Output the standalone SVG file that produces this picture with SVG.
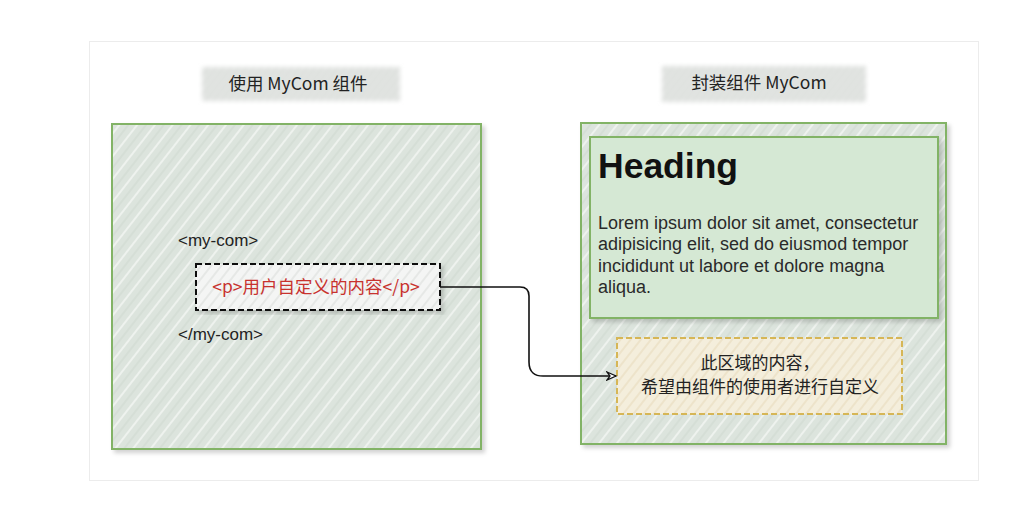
<svg xmlns="http://www.w3.org/2000/svg" width="1036" height="528" viewBox="0 0 1036 528">
<style>
.t{font-family:"Liberation Sans","Noto Sans CJK SC",Arial,sans-serif;fill:#222;font-size:17px}
.c{text-anchor:middle}
.cn{font-family:"Noto Sans CJK SC","Liberation Sans",sans-serif;}
.green{stroke:#82b366;stroke-width:2}
</style>
<defs>
<pattern id="hatch" width="14" height="14" patternUnits="userSpaceOnUse" patternTransform="rotate(-52)">
<rect width="14" height="14" fill="#dce4dd"/>
<line x1="0" y1="3" x2="14" y2="3" stroke="#eef2ee" stroke-width="2"/>
<line x1="0" y1="10" x2="14" y2="10" stroke="#cfd8d0" stroke-width="1"/>
</pattern>
<pattern id="hatchY" width="8" height="8" patternUnits="userSpaceOnUse" patternTransform="rotate(-52)">
<rect width="8" height="8" fill="#f4eedc"/>
<line x1="0" y1="2" x2="8" y2="2" stroke="#e6d9b8" stroke-width="1"/>
</pattern>
<pattern id="hatchW" width="8" height="8" patternUnits="userSpaceOnUse" patternTransform="rotate(-52)">
<rect width="8" height="8" fill="#f4f5f4"/>
<line x1="0" y1="2" x2="8" y2="2" stroke="#d8dcd8" stroke-width="1"/>
</pattern>
<pattern id="hatchG" width="6" height="6" patternUnits="userSpaceOnUse" patternTransform="rotate(-52)">
<rect width="6" height="6" fill="#e6e8e6"/>
<line x1="0" y1="2" x2="6" y2="2" stroke="#c9cdc9" stroke-width="1.2"/>
</pattern>
<filter id="sh" x="-10%" y="-10%" width="120%" height="120%">
<feDropShadow dx="3" dy="3" stdDeviation="2" flood-color="#000" flood-opacity="0.18"/>
</filter>
<filter id="blur" x="-10%" y="-30%" width="120%" height="160%">
<feGaussianBlur stdDeviation="2"/>
</filter>
<marker id="arr" markerWidth="12" markerHeight="10" refX="10" refY="5" orient="auto" markerUnits="userSpaceOnUse">
<path d="M1,1 L10,5 L1,9 L4,5 Z" fill="#fff" stroke="#111" stroke-width="1.3"/>
</marker>
</defs>
<rect x="0" y="0" width="1036" height="528" fill="#fff"/>
<rect x="89.5" y="41.5" width="889" height="439" fill="#fff" stroke="#ececec" stroke-width="1"/>

<g id="label-left">
<rect x="202" y="67" width="198" height="34" fill="url(#hatchG)" filter="url(#blur)"/>
<text class="t c cn" x="298" y="90" style="font-size:17.5px">使用 MyCom 组件</text>
</g>
<g id="label-right">
<rect x="662" y="66" width="204" height="36" fill="url(#hatchG)" filter="url(#blur)"/>
<text class="t c cn" x="759" y="89" style="font-size:17.5px">封装组件 MyCom</text>
</g>

<g id="left-box">
<rect x="112" y="124" width="369" height="325" fill="url(#hatch)" class="green" filter="url(#sh)"/>
<text class="t" x="178" y="246">&lt;my-com&gt;</text>
<text class="t" x="178" y="340">&lt;/my-com&gt;</text>
</g>

<g id="slot-content">
<rect x="196" y="264" width="244" height="46" fill="url(#hatchW)" stroke="#111" stroke-width="2" stroke-dasharray="6,3" filter="url(#sh)"/>
<text class="t c cn" x="316" y="293" style="fill:#c8322e;font-size:17.5px">&lt;p&gt;用户自定义的内容&lt;/p&gt;</text>
</g>

<g id="right-box">
<rect x="581" y="123" width="365" height="321" fill="url(#hatch)" class="green" filter="url(#sh)"/>
</g>
<g id="heading-box">
<rect x="590" y="137" width="348" height="181" fill="#d5e8d4" class="green" filter="url(#sh)"/>
<text class="t" x="598" y="178" style="font-size:35.5px;font-weight:bold;fill:#111">Heading</text>
<text class="t" x="598" y="229" style="font-size:18px;fill:#2a2a2a">Lorem ipsum dolor sit amet, consectetur</text>
<text class="t" x="598" y="250" style="font-size:18px;fill:#2a2a2a">adipisicing elit, sed do eiusmod tempor</text>
<text class="t" x="598" y="272" style="font-size:18px;fill:#2a2a2a">incididunt ut labore et dolore magna</text>
<text class="t" x="598" y="293" style="font-size:18px;fill:#2a2a2a">aliqua.</text>
</g>
<g id="slot-area">
<rect x="617" y="338" width="285" height="76" fill="url(#hatchY)" stroke="#d6b656" stroke-width="2" stroke-dasharray="6,3"/>
<text class="t c cn" x="760" y="369" style="font-size:17px">此区域的内容，</text>
<text class="t c cn" x="760" y="393" style="font-size:17px">希望由组件的使用者进行自定义</text>
</g>

<g id="connectors">
<path d="M440,287 L520,287 Q529,287 529,296 L529,362 Q529,377 545,376 L616,376" fill="none" stroke="#111" stroke-width="1.6" marker-end="url(#arr)"/>
</g>
</svg>
